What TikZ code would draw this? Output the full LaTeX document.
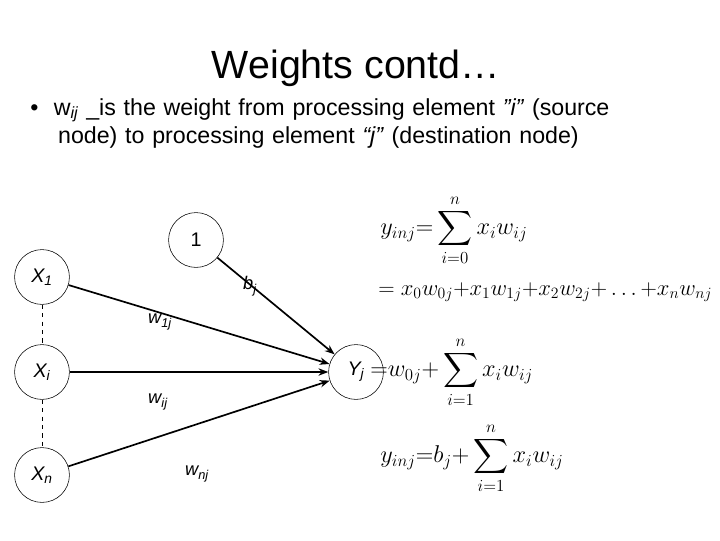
\documentclass[tikz,border=0pt]{standalone}
\usepackage{exscale}
\usepackage{amsmath}
\usepackage{graphicx}
\usepackage{fontspec}
\setmainfont{Liberation Sans}
\usepackage{tikz}
\usetikzlibrary{arrows.meta}
\tikzstyle{unit}=[circle,draw=black,minimum size=39pt,inner sep=0pt,font=\fontsize{14}{16}\selectfont\itshape]
\tikzstyle{link}=[-{Stealth[length=7pt]},draw=black,line width=1.2pt]
\tikzstyle{gap}=[dashed,draw=black,line width=0.5pt]
\tikzstyle{lab}=[inner sep=0pt,font=\fontsize{13}{15}\selectfont\itshape]
\tikzstyle{eq}=[inner sep=0pt,anchor=west,font=\fontsize{18}{22}\selectfont]
\begin{document}
\begin{tikzpicture}[x=0.025cm,y=-0.025cm]
	\useasboundingbox (0,0) rectangle (720,540);
	\node [font=\fontsize{28}{32}\selectfont] (title) at (356,68) {Weights contd\dots};
	\node [anchor=north west,text width=440pt,font=\fontsize{16.5}{20}\selectfont,inner sep=0pt] (txt) at (30,98)
		{\textbullet\ \ w\textsubscript{\itshape ij} \_is the weight from processing element \textit{''i''} (source\\
		\hspace*{1.2em}node) to processing element \textit{``j''} (destination node)};
	% units
	\node [style=unit] (one) at (196,240) {\upshape 1};
	\node [style=unit] (x1) at (42,277) {X\textsubscript{1}};
	\node [style=unit] (xi) at (42,372) {X\textsubscript{i}};
	\node [style=unit] (xn) at (42,475) {X\textsubscript{n}};
	\node [style=unit] (yj) at (356,372) {Y\textsubscript{j}};
	% weights
	\node [style=lab] (bj) at (250,286) {b\textsubscript{j}};
	\node [style=lab] (w1j) at (160,322) {w\textsubscript{1j}};
	\node [style=lab] (wij) at (158,402) {w\textsubscript{ij}};
	\node [style=lab] (wnj) at (197,474) {w\textsubscript{nj}};
	\draw [style=gap] (x1) to (xi);
	\draw [style=gap] (xi) to (xn);
	\draw [style=link] (one) to (yj);
	\draw [style=link] (x1) to (yj);
	\draw [style=link] (xi) to (yj);
	\draw [style=link] (xn) to (yj);
	% equations
	\node [style=eq] (e1) at (380,230) {$\displaystyle y_{inj}{=}\sum_{i=0}^{n}x_iw_{ij}$};
	\node [style=eq] (e2) at (378,292) {\resizebox{8.35cm}{!}{$=x_0w_{0j}{+}x_1w_{1j}{+}x_2w_{2j}{+}\ldots{+}x_nw_{nj}$}};
	\node [style=eq] (e3) at (370,372) {$\displaystyle {=}w_{0j}{+}\sum_{i=1}^{n}x_iw_{ij}$};
	\node [style=eq] (e4) at (380,458) {$\displaystyle y_{inj}{=}b_j{+}\sum_{i=1}^{n}x_iw_{ij}$};
\end{tikzpicture}
\end{document}
